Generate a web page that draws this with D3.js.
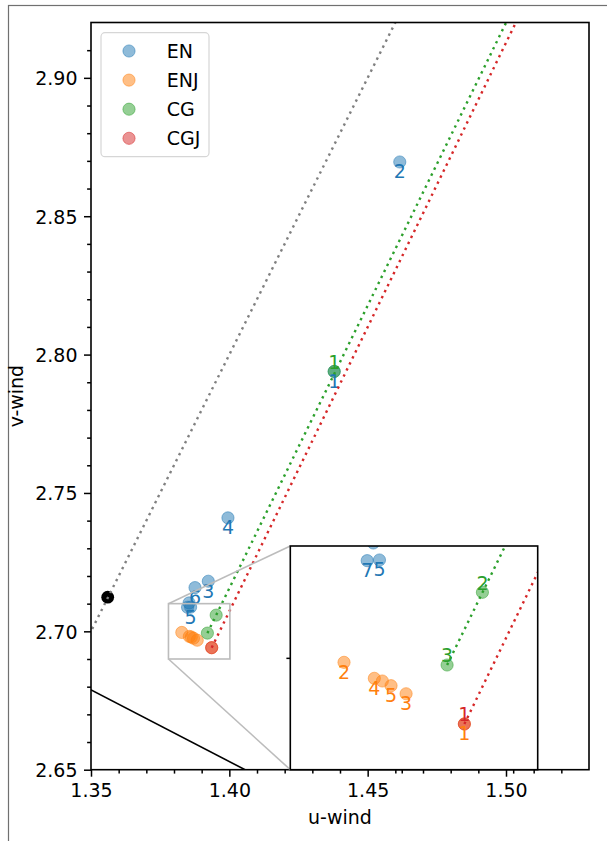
<!DOCTYPE html>
<html>
<head>
<meta charset="utf-8">
<script src="https://cdn.jsdelivr.net/npm/d3@7"></script>
<style>
  body { margin: 0; background: #fff; }
  svg { display: block; }
  text { font-family: "DejaVu Sans", sans-serif; }
</style>
</head>
<body>
<svg id="chart" width="607" height="841"></svg>
<script>
// ---- series (u-wind, v-wind) ----
const seriesNames  = ["EN", "ENJ", "CG", "CGJ"];
const seriesColors = ["#1f77b4", "#ff7f0e", "#2ca02c", "#d62728"];

const enU = [1.4379, 1.4616, 1.3924, 1.3995, 1.3860, 1.3876, 1.3849, 1.38545];
const enV = [2.7939, 2.8696, 2.7181, 2.7410, 2.70875, 2.7158, 2.70869, 2.71027];
const enLabels = ["1", "2", "3", "4", "5", "6", "7", ""];

const enjU = [1.39362, 1.38282, 1.38839, 1.38554, 1.38704, 1.38626];
const enjV = [2.69409, 2.69960, 2.69679, 2.69817, 2.69751, 2.69793];
const enjLabels = ["1", "2", "3", "4", "5", ""];

const cgU = [1.4379, 1.39524, 1.39207];
const cgV = [2.7939, 2.70586, 2.69936];
const cgLabels = ["1", "2", "3"];

const cgjU = [1.39362];
const cgjV = [2.69409];
const cgjLabels = ["1"];

// reference point
const refU = [1.35604];
const refV = [2.71233];

// labels shown on the full view
const mainEnLabels = ["1", "2", "3", "4", "5", "6"];
const mainCgLabels = ["1"];

// guide lines (endpoints, clipped to the axes)
const refLineU = [1.345, 1.465], refLineV = [2.690, 2.930];
const cgLineU  = [1.39207, 1.5030], cgLineV = [2.69936, 2.9260];
const cgjLineU = [1.39362, 1.5060], cgjLineV = [2.69409, 2.9250];
const baseLineU = [1.345, 1.410], baseLineV = [2.68140, 2.64776];

// axes limits and ticks
const uDomain = [1.35, 1.53], vDomain = [2.65, 2.92];
const insetUDomain = [1.378, 1.4002], insetVDomain = [2.69, 2.71];
const xMajorTicks = [1.35, 1.40, 1.45, 1.50];
const xMinorTicks = [1.36, 1.37, 1.38, 1.39, 1.41, 1.42, 1.43, 1.44, 1.46, 1.47, 1.48, 1.49, 1.51, 1.52];
const yMajorTicks = [2.65, 2.70, 2.75, 2.80, 2.85, 2.90];
const yMinorTicks = [2.66, 2.67, 2.68, 2.69, 2.71, 2.72, 2.73, 2.74, 2.76, 2.77, 2.78, 2.79,
                     2.81, 2.82, 2.83, 2.84, 2.86, 2.87, 2.88, 2.89, 2.91];
const insetXTicks = [1.388, 1.398];
const insetYTicks = [2.70];

// ---- layout ----
const main  = { l: 91, r: 589, t: 22.5, b: 769.7 };
const inset = { l: 290.3, r: 537.7, t: 546, b: 769.7 };
const FONT = 19;
const R = 6.1;

const svg = d3.select("#chart");

// figure frame
svg.append("rect").attr("x", 8.5).attr("y", 5.5).attr("width", 700).attr("height", 900)
  .attr("fill", "none").attr("stroke", "#707070").attr("stroke-width", 1.2);

const x  = d3.scaleLinear().domain(uDomain).range([main.l, main.r]);
const y  = d3.scaleLinear().domain(vDomain).range([main.b, main.t]);
const xi = d3.scaleLinear().domain(insetUDomain).range([inset.l, inset.r]);
const yi = d3.scaleLinear().domain(insetVDomain).range([inset.b, inset.t]);

const defs = svg.append("defs");
defs.append("clipPath").attr("id", "clipMain").append("rect")
  .attr("x", main.l).attr("y", main.t).attr("width", main.r - main.l).attr("height", main.b - main.t);
defs.append("clipPath").attr("id", "clipInset").append("rect")
  .attr("x", inset.l).attr("y", inset.t).attr("width", inset.r - inset.l).attr("height", inset.b - inset.t);

const zip = (us, vs) => us.map((u, i) => [u, vs[i]]);
const series = [
  { pts: zip(enU, enV),   labels: enLabels,  color: seriesColors[0], below: true },
  { pts: zip(enjU, enjV), labels: enjLabels, color: seriesColors[1], below: true },
  { pts: zip(cgU, cgV),   labels: cgLabels,  color: seriesColors[2], below: false },
  { pts: zip(cgjU, cgjV), labels: cgjLabels, color: seriesColors[3], below: false }
];
const guides = [
  { pts: zip(refLineU, refLineV), color: "#808080" },
  { pts: zip(cgLineU, cgLineV),   color: seriesColors[2] },
  { pts: zip(cgjLineU, cgjLineV), color: seriesColors[3] }
];

function drawPanel(g, sx, sy, labelFilter, withRef) {
  const line = d3.line().x(d => sx(d[0])).y(d => sy(d[1]));
  if (withRef) {
    g.append("path").attr("d", line(zip(baseLineU, baseLineV)))
      .attr("fill", "none").attr("stroke", "#000").attr("stroke-width", 1.6);
  }
  series.forEach(s => {
    g.selectAll(null).data(s.pts).join("circle")
      .attr("cx", d => sx(d[0])).attr("cy", d => sy(d[1])).attr("r", R)
      .attr("fill", s.color).attr("fill-opacity", 0.5)
      .attr("stroke", s.color).attr("stroke-opacity", 0.5).attr("stroke-width", 1);
  });
  if (withRef) {
    g.selectAll(null).data(zip(refU, refV)).join("circle")
      .attr("cx", d => sx(d[0])).attr("cy", d => sy(d[1])).attr("r", 6.4).attr("fill", "#000");
  }
  series.forEach((s, si) => {
    s.pts.forEach((p, i) => {
      const lab = s.labels[i];
      if (!lab || !labelFilter(si, lab)) return;
      const cy = sy(p[1]) + (s.below ? 9.5 : -9.5);
      g.append("text").attr("x", sx(p[0])).attr("y", cy + 6.9)
        .attr("text-anchor", "middle").attr("font-size", FONT).attr("fill", s.color).text(lab);
    });
  });
  guides.forEach((gd, k) => {
    if (k === 0 && !withRef) return;
    g.append("path").attr("d", line(gd.pts)).attr("fill", "none")
      .attr("stroke", gd.color).attr("stroke-width", 2.4).attr("stroke-dasharray", "2.4,4.3");
  });
}

// ---- main axes ----
const gMain = svg.append("g").attr("clip-path", "url(#clipMain)");
drawPanel(gMain, x, y, (si, lab) =>
  (si === 0 && mainEnLabels.includes(lab)) || (si === 2 && mainCgLabels.includes(lab)), true);

function styleAxis(g) {
  g.select(".domain").remove();
  g.selectAll("line").attr("stroke", "#000").attr("stroke-width", 1.5);
  g.selectAll("text").attr("font-size", FONT).attr("fill", "#000")
    .attr("font-family", "DejaVu Sans, sans-serif");
}
function minorAxis(g) {
  styleAxis(g);
  g.selectAll("text").remove();
}
const fmt = d3.format(".2f");
svg.append("g").attr("transform", `translate(0,${main.b})`)
  .call(d3.axisBottom(x).tickValues(xMinorTicks).tickSize(3.9)).call(minorAxis);
svg.append("g").attr("transform", `translate(0,${main.b})`)
  .call(d3.axisBottom(x).tickValues(xMajorTicks).tickFormat(fmt).tickSize(7).tickPadding(6.5)).call(styleAxis);
svg.append("g").attr("transform", `translate(${main.l},0)`)
  .call(d3.axisLeft(y).tickValues(yMinorTicks).tickSize(3.9)).call(minorAxis);
svg.append("g").attr("transform", `translate(${main.l},0)`)
  .call(d3.axisLeft(y).tickValues(yMajorTicks).tickFormat(fmt).tickSize(7).tickPadding(6.5))
  .call(styleAxis)
  .call(g => g.selectAll("text").attr("dy", "0.36em"));

svg.append("rect").attr("x", main.l).attr("y", main.t)
  .attr("width", main.r - main.l).attr("height", main.b - main.t)
  .attr("fill", "none").attr("stroke", "#000").attr("stroke-width", 1.6);

svg.append("text").attr("x", (main.l + main.r) / 2).attr("y", 824)
  .attr("text-anchor", "middle").attr("font-size", FONT).text("u-wind");
svg.append("text").attr("transform", `translate(23,${(main.t + main.b) / 2}) rotate(-90)`)
  .attr("text-anchor", "middle").attr("font-size", FONT).text("v-wind");

// ---- zoom indicator ----
const bx0 = x(insetUDomain[0]), bx1 = x(insetUDomain[1]);
const by0 = y(insetVDomain[1]), by1 = y(insetVDomain[0]);
const zoomStroke = "#bcbcbc";
svg.append("rect").attr("x", bx0).attr("y", by0).attr("width", bx1 - bx0).attr("height", by1 - by0)
  .attr("fill", "none").attr("stroke", zoomStroke).attr("stroke-width", 1.6);
svg.append("line").attr("x1", bx0).attr("y1", by0).attr("x2", inset.l).attr("y2", inset.t)
  .attr("stroke", zoomStroke).attr("stroke-width", 1.6);
svg.append("line").attr("x1", bx0).attr("y1", by1).attr("x2", inset.l).attr("y2", inset.b)
  .attr("stroke", zoomStroke).attr("stroke-width", 1.6);

// ---- inset axes ----
svg.append("rect").attr("x", inset.l).attr("y", inset.t)
  .attr("width", inset.r - inset.l).attr("height", inset.b - inset.t).attr("fill", "#fff");
const gInset = svg.append("g").attr("clip-path", "url(#clipInset)");
drawPanel(gInset, xi, yi, () => true, false);
svg.append("g").attr("transform", `translate(0,${inset.b})`)
  .call(d3.axisBottom(xi).tickValues(insetXTicks).tickSize(3.9)).call(minorAxis);
svg.append("g").attr("transform", `translate(${inset.l},0)`)
  .call(d3.axisLeft(yi).tickValues(insetYTicks).tickSize(3.9)).call(minorAxis);
svg.append("rect").attr("x", inset.l).attr("y", inset.t)
  .attr("width", inset.r - inset.l).attr("height", inset.b - inset.t)
  .attr("fill", "none").attr("stroke", "#000").attr("stroke-width", 1.6);

// ---- legend ----
const leg = svg.append("g");
leg.append("rect").attr("x", 101).attr("y", 32.7).attr("width", 108).attr("height", 124)
  .attr("rx", 4).attr("fill", "#fff").attr("fill-opacity", 0.8)
  .attr("stroke", "#d6d6d6").attr("stroke-width", 1.2);
seriesNames.forEach((name, i) => {
  const cy = 51 + i * 29.1;
  leg.append("circle").attr("cx", 129).attr("cy", cy).attr("r", R)
    .attr("fill", seriesColors[i]).attr("fill-opacity", 0.5)
    .attr("stroke", seriesColors[i]).attr("stroke-opacity", 0.5).attr("stroke-width", 1);
  leg.append("text").attr("x", 166.7).attr("y", cy + 6.9).attr("font-size", FONT).text(name);
});
</script>
</body>
</html>
